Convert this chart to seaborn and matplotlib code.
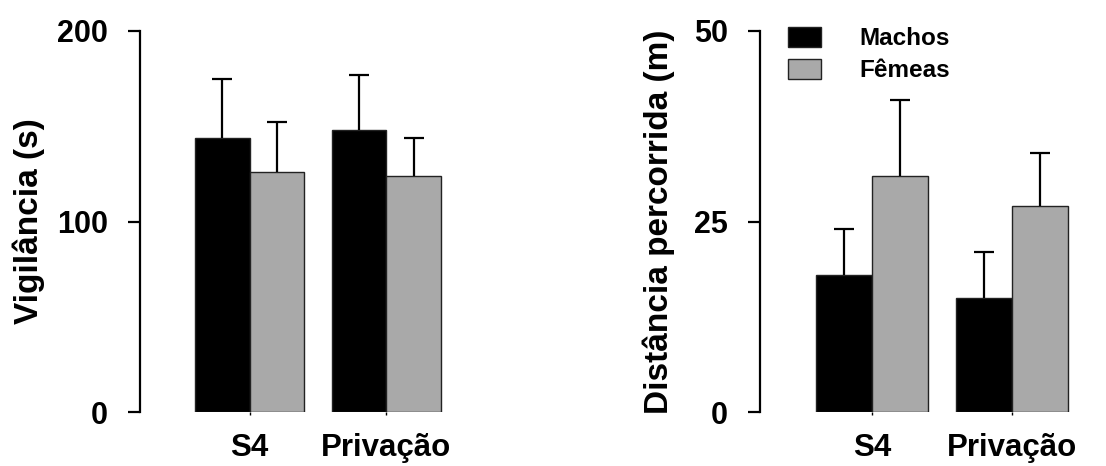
import matplotlib
matplotlib.use("Agg")
import matplotlib.pyplot as plt
import seaborn as sns
import pandas as pd
import numpy as np

# data
grupos = ["S4", "Privação"]
sexos = ["Machos", "Fêmeas"]

vig_machos = [144, 148]
vig_femeas = [126, 124]
vig_err_machos = [31, 29]
vig_err_femeas = [26, 20]

dist_machos = [18, 15]
dist_femeas = [31, 27]
dist_err_machos = [6, 6]
dist_err_femeas = [10, 7]

cores = {"Machos": "#000000", "Fêmeas": "#a9a9a9"}

sns.set_style("ticks")
plt.rcParams["font.family"] = ["Liberation Sans", "DejaVu Sans"]
plt.rcParams["font.weight"] = "bold"
plt.rcParams["text.color"] = "black"
plt.rcParams["axes.labelcolor"] = "black"
plt.rcParams["xtick.color"] = "black"
plt.rcParams["ytick.color"] = "black"
plt.rcParams["axes.edgecolor"] = "black"


def make_df(machos, femeas):
    return pd.DataFrame({
        "grupo": grupos * 2,
        "sexo": [sexos[0]] * 2 + [sexos[1]] * 2,
        "valor": list(machos) + list(femeas),
    })


def painel(ax, machos, femeas, err_m, err_f, ymax, yticks, ylabel, labelpad, legend):
    df = make_df(machos, femeas)
    sns.barplot(data=df, x="grupo", y="valor", hue="sexo", order=grupos,
                hue_order=sexos, palette=cores, width=0.8, edgecolor="#222222",
                linewidth=1, saturation=1, legend=legend, ax=ax)
    # upward-only error bars at the bar tops
    for cont, err in zip(ax.containers, [err_m, err_f]):
        xs = [b.get_x() + b.get_width() / 2 for b in cont]
        hs = [b.get_height() for b in cont]
        eb = ax.errorbar(xs, hs, yerr=[np.zeros(len(err)), err], fmt="none",
                         ecolor="black", elinewidth=1.6, capsize=7.5, capthick=1.6)
        for cap in eb[1]:
            if np.allclose(cap.get_ydata(), hs):
                cap.set_visible(False)
    ax.set_xlim(-0.8, 1.42)
    ax.set_ylim(0, ymax)
    ax.set_yticks(yticks)
    ax.set_xlabel("")
    ax.set_ylabel(ylabel, fontsize=24, fontweight="bold", labelpad=labelpad)
    sns.despine(ax=ax, bottom=True)
    ax.spines["left"].set_linewidth(1.6)
    ax.tick_params(axis="y", length=9, width=1.6, labelsize=22, pad=14)
    ax.tick_params(axis="x", length=2, width=1, labelsize=22.5, pad=13)
    for t in ax.get_xticklabels() + ax.get_yticklabels():
        t.set_fontweight("bold")


fig = plt.figure(figsize=(11.06, 4.66), dpi=100)
ax1 = fig.add_axes([140 / 1106, 1 - 412 / 466, 304 / 1106, 381 / 466])
ax2 = fig.add_axes([760 / 1106, 1 - 412 / 466, 311 / 1106, 381 / 466])

painel(ax1, vig_machos, vig_femeas, vig_err_machos, vig_err_femeas,
       200, [0, 100, 200], "Vigilância (s)", 9, False)
painel(ax2, dist_machos, dist_femeas, dist_err_machos, dist_err_femeas,
       50, [0, 25, 50], "Distância percorrida (m)", 14, True)

leg = ax2.legend(loc="upper left", bbox_to_anchor=(788 / 1106, 1 - 27 / 466),
                 bbox_transform=fig.transFigure, frameon=False, borderpad=0,
                 borderaxespad=0, handlelength=1.35, handleheight=0.9,
                 handletextpad=1.6, labelspacing=0.35,
                 prop={"size": 17.5, "weight": "bold"})

fig.savefig("out.png", dpi=100)
